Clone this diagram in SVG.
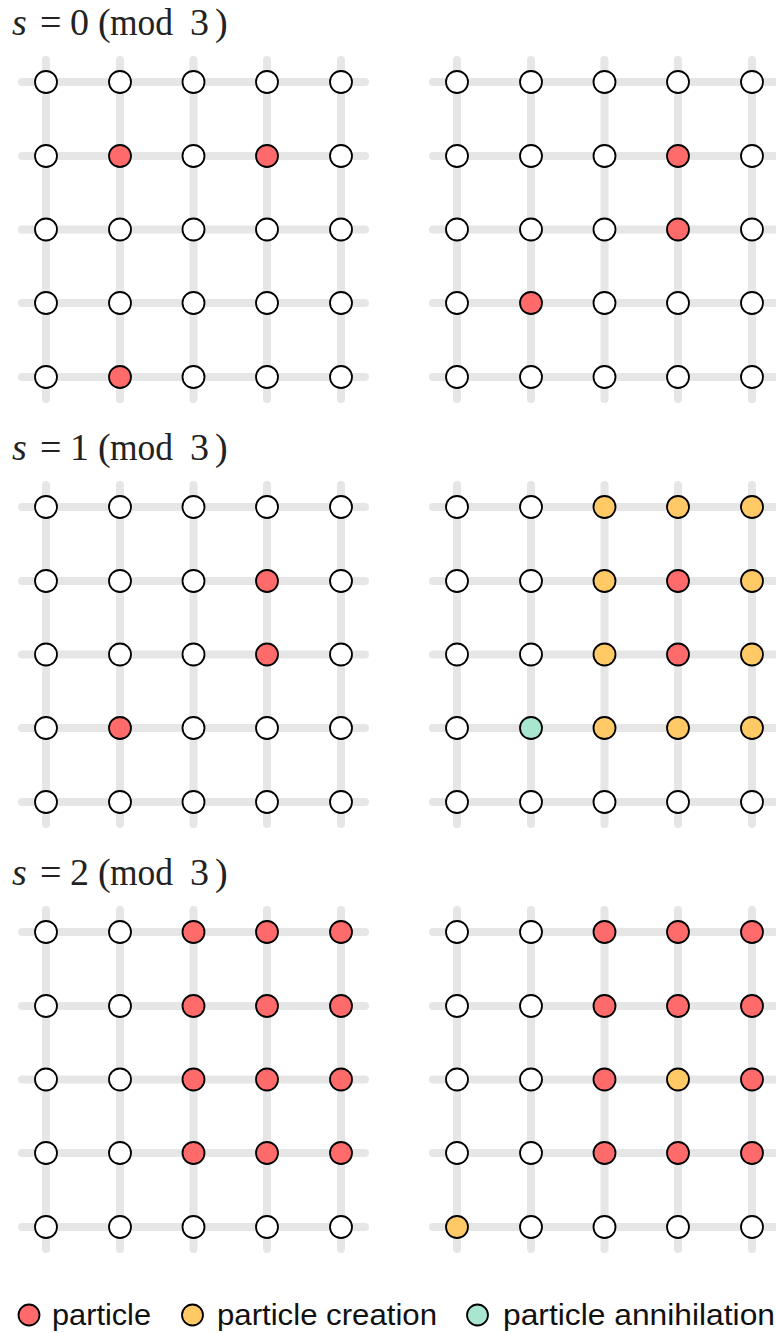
<svg xmlns="http://www.w3.org/2000/svg" width="776" height="1333" viewBox="0 0 776 1333">
<style>
.g{stroke:#e6e6e6;stroke-width:8;stroke-linecap:round;fill:none}
circle{stroke:#000;stroke-width:1.8}
.w{fill:#fff}.r{fill:#ff6b6b}.o{fill:#ffc966}.t{fill:#a8e6cf}
.ti{font-family:"Liberation Serif",serif;font-size:38px;fill:#222}
.lg{font-family:"Liberation Sans",sans-serif;font-size:30px;fill:#111}
</style>
<defs>
<g id="lat">
<path class="g" d="M22 82H365M22 156H365M22 229.5H365M22 303H365M22 377H365M46 60V399M120 60V399M193.5 60V399M267 60V399M341 60V399"/>
</g>
<g id="latR">
<path class="g" d="M433 82H790M433 156H790M433 229.5H790M433 303H790M433 377H790M457 60V399M531 60V399M604.5 60V399M678 60V399M752 60V399"/>
</g>
</defs>
<g id="connectors">
<use href="#lat"/><use href="#latR"/>
<use href="#lat" y="425"/><use href="#latR" y="425"/>
<use href="#lat" y="850"/><use href="#latR" y="850"/>
</g>
<g id="titles">
<text class="ti" y="35"><tspan x="12" font-style="italic">s</tspan><tspan x="40">=</tspan><tspan x="70">0</tspan><tspan x="98">(</tspan><tspan x="110" textLength="63" lengthAdjust="spacingAndGlyphs">mod</tspan><tspan x="190">3</tspan><tspan x="215">)</tspan></text>
<text class="ti" y="460"><tspan x="12" font-style="italic">s</tspan><tspan x="40">=</tspan><tspan x="70">1</tspan><tspan x="98">(</tspan><tspan x="110" textLength="63" lengthAdjust="spacingAndGlyphs">mod</tspan><tspan x="190">3</tspan><tspan x="215">)</tspan></text>
<text class="ti" y="885"><tspan x="12" font-style="italic">s</tspan><tspan x="40">=</tspan><tspan x="70">2</tspan><tspan x="98">(</tspan><tspan x="110" textLength="63" lengthAdjust="spacingAndGlyphs">mod</tspan><tspan x="190">3</tspan><tspan x="215">)</tspan></text>
</g>
<!-- Panel 1 left -->
<g id="p1L">
<g id="p1L11"><circle class="w" cx="46" cy="82" r="11"/></g><g id="p1L12"><circle class="w" cx="120" cy="82" r="11"/></g><g id="p1L13"><circle class="w" cx="193.5" cy="82" r="11"/></g><g id="p1L14"><circle class="w" cx="267" cy="82" r="11"/></g><g id="p1L15"><circle class="w" cx="341" cy="82" r="11"/></g>
<g id="p1L21"><circle class="w" cx="46" cy="156" r="11"/></g><g id="p1L22"><circle class="r" cx="120" cy="156" r="11"/></g><g id="p1L23"><circle class="w" cx="193.5" cy="156" r="11"/></g><g id="p1L24"><circle class="r" cx="267" cy="156" r="11"/></g><g id="p1L25"><circle class="w" cx="341" cy="156" r="11"/></g>
<g id="p1L31"><circle class="w" cx="46" cy="229.5" r="11"/></g><g id="p1L32"><circle class="w" cx="120" cy="229.5" r="11"/></g><g id="p1L33"><circle class="w" cx="193.5" cy="229.5" r="11"/></g><g id="p1L34"><circle class="w" cx="267" cy="229.5" r="11"/></g><g id="p1L35"><circle class="w" cx="341" cy="229.5" r="11"/></g>
<g id="p1L41"><circle class="w" cx="46" cy="303" r="11"/></g><g id="p1L42"><circle class="w" cx="120" cy="303" r="11"/></g><g id="p1L43"><circle class="w" cx="193.5" cy="303" r="11"/></g><g id="p1L44"><circle class="w" cx="267" cy="303" r="11"/></g><g id="p1L45"><circle class="w" cx="341" cy="303" r="11"/></g>
<g id="p1L51"><circle class="w" cx="46" cy="377" r="11"/></g><g id="p1L52"><circle class="r" cx="120" cy="377" r="11"/></g><g id="p1L53"><circle class="w" cx="193.5" cy="377" r="11"/></g><g id="p1L54"><circle class="w" cx="267" cy="377" r="11"/></g><g id="p1L55"><circle class="w" cx="341" cy="377" r="11"/></g>
</g>
<!-- Panel 1 right -->
<g id="p1R">
<g id="p1R11"><circle class="w" cx="457" cy="82" r="11"/></g><g id="p1R12"><circle class="w" cx="531" cy="82" r="11"/></g><g id="p1R13"><circle class="w" cx="604.5" cy="82" r="11"/></g><g id="p1R14"><circle class="w" cx="678" cy="82" r="11"/></g><g id="p1R15"><circle class="w" cx="752" cy="82" r="11"/></g>
<g id="p1R21"><circle class="w" cx="457" cy="156" r="11"/></g><g id="p1R22"><circle class="w" cx="531" cy="156" r="11"/></g><g id="p1R23"><circle class="w" cx="604.5" cy="156" r="11"/></g><g id="p1R24"><circle class="r" cx="678" cy="156" r="11"/></g><g id="p1R25"><circle class="w" cx="752" cy="156" r="11"/></g>
<g id="p1R31"><circle class="w" cx="457" cy="229.5" r="11"/></g><g id="p1R32"><circle class="w" cx="531" cy="229.5" r="11"/></g><g id="p1R33"><circle class="w" cx="604.5" cy="229.5" r="11"/></g><g id="p1R34"><circle class="r" cx="678" cy="229.5" r="11"/></g><g id="p1R35"><circle class="w" cx="752" cy="229.5" r="11"/></g>
<g id="p1R41"><circle class="w" cx="457" cy="303" r="11"/></g><g id="p1R42"><circle class="r" cx="531" cy="303" r="11"/></g><g id="p1R43"><circle class="w" cx="604.5" cy="303" r="11"/></g><g id="p1R44"><circle class="w" cx="678" cy="303" r="11"/></g><g id="p1R45"><circle class="w" cx="752" cy="303" r="11"/></g>
<g id="p1R51"><circle class="w" cx="457" cy="377" r="11"/></g><g id="p1R52"><circle class="w" cx="531" cy="377" r="11"/></g><g id="p1R53"><circle class="w" cx="604.5" cy="377" r="11"/></g><g id="p1R54"><circle class="w" cx="678" cy="377" r="11"/></g><g id="p1R55"><circle class="w" cx="752" cy="377" r="11"/></g>
</g>
<!-- Panel 2 left -->
<g id="p2L">
<g id="p2L11"><circle class="w" cx="46" cy="507" r="11"/></g><g id="p2L12"><circle class="w" cx="120" cy="507" r="11"/></g><g id="p2L13"><circle class="w" cx="193.5" cy="507" r="11"/></g><g id="p2L14"><circle class="w" cx="267" cy="507" r="11"/></g><g id="p2L15"><circle class="w" cx="341" cy="507" r="11"/></g>
<g id="p2L21"><circle class="w" cx="46" cy="581" r="11"/></g><g id="p2L22"><circle class="w" cx="120" cy="581" r="11"/></g><g id="p2L23"><circle class="w" cx="193.5" cy="581" r="11"/></g><g id="p2L24"><circle class="r" cx="267" cy="581" r="11"/></g><g id="p2L25"><circle class="w" cx="341" cy="581" r="11"/></g>
<g id="p2L31"><circle class="w" cx="46" cy="654.5" r="11"/></g><g id="p2L32"><circle class="w" cx="120" cy="654.5" r="11"/></g><g id="p2L33"><circle class="w" cx="193.5" cy="654.5" r="11"/></g><g id="p2L34"><circle class="r" cx="267" cy="654.5" r="11"/></g><g id="p2L35"><circle class="w" cx="341" cy="654.5" r="11"/></g>
<g id="p2L41"><circle class="w" cx="46" cy="728" r="11"/></g><g id="p2L42"><circle class="r" cx="120" cy="728" r="11"/></g><g id="p2L43"><circle class="w" cx="193.5" cy="728" r="11"/></g><g id="p2L44"><circle class="w" cx="267" cy="728" r="11"/></g><g id="p2L45"><circle class="w" cx="341" cy="728" r="11"/></g>
<g id="p2L51"><circle class="w" cx="46" cy="802" r="11"/></g><g id="p2L52"><circle class="w" cx="120" cy="802" r="11"/></g><g id="p2L53"><circle class="w" cx="193.5" cy="802" r="11"/></g><g id="p2L54"><circle class="w" cx="267" cy="802" r="11"/></g><g id="p2L55"><circle class="w" cx="341" cy="802" r="11"/></g>
</g>
<!-- Panel 2 right -->
<g id="p2R">
<g id="p2R11"><circle class="w" cx="457" cy="507" r="11"/></g><g id="p2R12"><circle class="w" cx="531" cy="507" r="11"/></g><g id="p2R13"><circle class="o" cx="604.5" cy="507" r="11"/></g><g id="p2R14"><circle class="o" cx="678" cy="507" r="11"/></g><g id="p2R15"><circle class="o" cx="752" cy="507" r="11"/></g>
<g id="p2R21"><circle class="w" cx="457" cy="581" r="11"/></g><g id="p2R22"><circle class="w" cx="531" cy="581" r="11"/></g><g id="p2R23"><circle class="o" cx="604.5" cy="581" r="11"/></g><g id="p2R24"><circle class="r" cx="678" cy="581" r="11"/></g><g id="p2R25"><circle class="o" cx="752" cy="581" r="11"/></g>
<g id="p2R31"><circle class="w" cx="457" cy="654.5" r="11"/></g><g id="p2R32"><circle class="w" cx="531" cy="654.5" r="11"/></g><g id="p2R33"><circle class="o" cx="604.5" cy="654.5" r="11"/></g><g id="p2R34"><circle class="r" cx="678" cy="654.5" r="11"/></g><g id="p2R35"><circle class="o" cx="752" cy="654.5" r="11"/></g>
<g id="p2R41"><circle class="w" cx="457" cy="728" r="11"/></g><g id="p2R42"><circle class="t" cx="531" cy="728" r="11"/></g><g id="p2R43"><circle class="o" cx="604.5" cy="728" r="11"/></g><g id="p2R44"><circle class="o" cx="678" cy="728" r="11"/></g><g id="p2R45"><circle class="o" cx="752" cy="728" r="11"/></g>
<g id="p2R51"><circle class="w" cx="457" cy="802" r="11"/></g><g id="p2R52"><circle class="w" cx="531" cy="802" r="11"/></g><g id="p2R53"><circle class="w" cx="604.5" cy="802" r="11"/></g><g id="p2R54"><circle class="w" cx="678" cy="802" r="11"/></g><g id="p2R55"><circle class="w" cx="752" cy="802" r="11"/></g>
</g>
<!-- Panel 3 left -->
<g id="p3L">
<g id="p3L11"><circle class="w" cx="46" cy="932" r="11"/></g><g id="p3L12"><circle class="w" cx="120" cy="932" r="11"/></g><g id="p3L13"><circle class="r" cx="193.5" cy="932" r="11"/></g><g id="p3L14"><circle class="r" cx="267" cy="932" r="11"/></g><g id="p3L15"><circle class="r" cx="341" cy="932" r="11"/></g>
<g id="p3L21"><circle class="w" cx="46" cy="1006" r="11"/></g><g id="p3L22"><circle class="w" cx="120" cy="1006" r="11"/></g><g id="p3L23"><circle class="r" cx="193.5" cy="1006" r="11"/></g><g id="p3L24"><circle class="r" cx="267" cy="1006" r="11"/></g><g id="p3L25"><circle class="r" cx="341" cy="1006" r="11"/></g>
<g id="p3L31"><circle class="w" cx="46" cy="1079.5" r="11"/></g><g id="p3L32"><circle class="w" cx="120" cy="1079.5" r="11"/></g><g id="p3L33"><circle class="r" cx="193.5" cy="1079.5" r="11"/></g><g id="p3L34"><circle class="r" cx="267" cy="1079.5" r="11"/></g><g id="p3L35"><circle class="r" cx="341" cy="1079.5" r="11"/></g>
<g id="p3L41"><circle class="w" cx="46" cy="1153" r="11"/></g><g id="p3L42"><circle class="w" cx="120" cy="1153" r="11"/></g><g id="p3L43"><circle class="r" cx="193.5" cy="1153" r="11"/></g><g id="p3L44"><circle class="r" cx="267" cy="1153" r="11"/></g><g id="p3L45"><circle class="r" cx="341" cy="1153" r="11"/></g>
<g id="p3L51"><circle class="w" cx="46" cy="1227" r="11"/></g><g id="p3L52"><circle class="w" cx="120" cy="1227" r="11"/></g><g id="p3L53"><circle class="w" cx="193.5" cy="1227" r="11"/></g><g id="p3L54"><circle class="w" cx="267" cy="1227" r="11"/></g><g id="p3L55"><circle class="w" cx="341" cy="1227" r="11"/></g>
</g>
<!-- Panel 3 right -->
<g id="p3R">
<g id="p3R11"><circle class="w" cx="457" cy="932" r="11"/></g><g id="p3R12"><circle class="w" cx="531" cy="932" r="11"/></g><g id="p3R13"><circle class="r" cx="604.5" cy="932" r="11"/></g><g id="p3R14"><circle class="r" cx="678" cy="932" r="11"/></g><g id="p3R15"><circle class="r" cx="752" cy="932" r="11"/></g>
<g id="p3R21"><circle class="w" cx="457" cy="1006" r="11"/></g><g id="p3R22"><circle class="w" cx="531" cy="1006" r="11"/></g><g id="p3R23"><circle class="r" cx="604.5" cy="1006" r="11"/></g><g id="p3R24"><circle class="r" cx="678" cy="1006" r="11"/></g><g id="p3R25"><circle class="r" cx="752" cy="1006" r="11"/></g>
<g id="p3R31"><circle class="w" cx="457" cy="1079.5" r="11"/></g><g id="p3R32"><circle class="w" cx="531" cy="1079.5" r="11"/></g><g id="p3R33"><circle class="r" cx="604.5" cy="1079.5" r="11"/></g><g id="p3R34"><circle class="o" cx="678" cy="1079.5" r="11"/></g><g id="p3R35"><circle class="r" cx="752" cy="1079.5" r="11"/></g>
<g id="p3R41"><circle class="w" cx="457" cy="1153" r="11"/></g><g id="p3R42"><circle class="w" cx="531" cy="1153" r="11"/></g><g id="p3R43"><circle class="r" cx="604.5" cy="1153" r="11"/></g><g id="p3R44"><circle class="r" cx="678" cy="1153" r="11"/></g><g id="p3R45"><circle class="r" cx="752" cy="1153" r="11"/></g>
<g id="p3R51"><circle class="o" cx="457" cy="1227" r="11"/></g><g id="p3R52"><circle class="w" cx="531" cy="1227" r="11"/></g><g id="p3R53"><circle class="w" cx="604.5" cy="1227" r="11"/></g><g id="p3R54"><circle class="w" cx="678" cy="1227" r="11"/></g><g id="p3R55"><circle class="w" cx="752" cy="1227" r="11"/></g>
</g>
<g id="legend">
<circle class="r" cx="29" cy="1315" r="10.5"/>
<text class="lg" x="52" y="1325" textLength="99" lengthAdjust="spacingAndGlyphs">particle</text>
<circle class="o" cx="192.5" cy="1315" r="10.5"/>
<text class="lg" x="217" y="1325" textLength="220" lengthAdjust="spacingAndGlyphs">particle creation</text>
<circle class="t" cx="477.5" cy="1315" r="10.5"/>
<text class="lg" x="503" y="1325" textLength="272" lengthAdjust="spacingAndGlyphs">particle annihilation</text>
</g>
</svg>
